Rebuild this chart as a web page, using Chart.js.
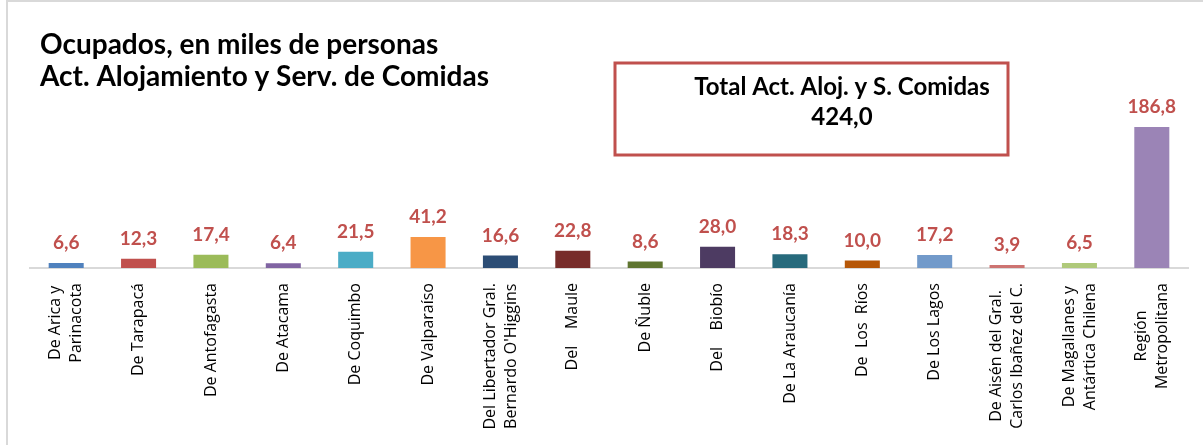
<!DOCTYPE html>
<html>
<head>
<meta charset="utf-8">
<script src="https://cdn.jsdelivr.net/npm/chart.js@4.4.1/dist/chart.umd.min.js"></script>
<style>
    html, body { margin: 0; padding: 0; background: #fff; }
    #wrap { position: relative; width: 1203px; height: 445px; }
    #frame {
        position: absolute; left: 6px; top: 0; right: -4px; bottom: -4px;
        border-left: 2px solid #d9d9d9; border-top: 2px solid #d9d9d9;
    }
    canvas { position: absolute; left: 0; top: 0; }
</style>
</head>
<body>
<div id="wrap">
    <div id="frame"></div>
    <canvas id="chart" width="1203" height="445"></canvas>
</div>
<script>

/* ---------------- Data ---------------- */

const regions = [
    ["De Arica y", "Parinacota"],
    ["De Tarapacá"],
    ["De Antofagasta"],
    ["De Atacama"],
    ["De Coquimbo"],
    ["De Valparaíso"],
    ["Del Libertador Gral.", "Bernardo O'Higgins"],
    ["Del    Maule"],
    ["De Ñuble"],
    ["Del    Biobío"],
    ["De La Araucanía"],
    ["De  Los  Ríos"],
    ["De Los Lagos"],
    ["De Aisén del Gral.", "Carlos Ibañez del C."],
    ["De Magallanes y", "Antártica Chilena"],
    ["Región", "Metropolitana"]
];

const ocupados = [6.6, 12.3, 17.4, 6.4, 21.5, 41.2, 16.6, 22.8, 8.6, 28.0, 18.3, 10.0, 17.2, 3.9, 6.5, 186.8];

const barColors = [
    "#4f81bd", "#c0504d", "#9bbb59", "#8064a2",
    "#4bacc6", "#f79646", "#2c4d75", "#772c2a",
    "#5f7530", "#4d3b62", "#276a7c", "#b65708",
    "#729aca", "#cd7371", "#afc97a", "#9b84b6"
];

const titleLines = ["Ocupados, en miles de personas", "Act. Alojamiento y Serv. de Comidas"];
const totalLines = ["Total Act. Aloj. y S. Comidas", "424,0"];

const fmt = v => v.toFixed(1).replace(".", ",");

/* ---------------- Plugins ---------------- */

const decorations = {
    id: "decorations",
    afterDraw(chart) {
        const ctx = chart.ctx;
        const x = chart.scales.x;

        ctx.save();

        // title
        ctx.fillStyle = "#000";
        ctx.font = "bold 28px Lato";
        ctx.textAlign = "left";
        ctx.textBaseline = "middle";
        titleLines.forEach((t, i) => ctx.fillText(t, 40, 45 + i * 32));

        // total box
        ctx.strokeStyle = "#c0504d";
        ctx.lineWidth = 3;
        ctx.strokeRect(615, 63, 393, 92);
        ctx.font = "bold 24px Lato";
        ctx.textAlign = "center";
        totalLines.forEach((t, i) => ctx.fillText(t, 842, 87 + i * 30));

        // category labels, rotated
        ctx.font = "16px 'Open Sans'";
        ctx.fillStyle = "#000";
        const lh = 21;
        const top = 283;
        regions.forEach((lines, i) => {
            const px = x.getPixelForValue(i);
            const w = Math.max(...lines.map(l => ctx.measureText(l).width));
            lines.forEach((l, j) => {
                const cx = px - (lines.length - 1) * lh / 2 + j * lh;
                ctx.save();
                ctx.translate(cx, top + w / 2);
                ctx.rotate(-Math.PI / 2);
                ctx.textAlign = "center";
                ctx.textBaseline = "middle";
                ctx.fillText(l, 0, 0);
                ctx.restore();
            });
        });

        ctx.restore();
    },
    afterDatasetsDraw(chart) {
        const ctx = chart.ctx;
        const meta = chart.getDatasetMeta(0);
        ctx.save();
        ctx.font = "bold 19px Lato";
        ctx.fillStyle = "#c0504d";
        ctx.textAlign = "center";
        ctx.textBaseline = "middle";
        meta.data.forEach((bar, i) => {
            ctx.fillText(fmt(ocupados[i]), bar.x, bar.y - 20);
        });
        ctx.restore();
    }
};

/* ---------------- Chart ---------------- */

const ctx = document.getElementById("chart").getContext("2d");

new Chart(ctx, {
    type: "bar",
    data: {
        labels: regions.map(r => r.join(" ")),
        datasets: [{
            data: ocupados,
            backgroundColor: barColors,
            borderWidth: 0,
            barPercentage: 0.484,
            categoryPercentage: 1
        }]
    },
    options: {
        responsive: false,
        animation: false,
        layout: {
            padding: { top: 117, left: 30, right: 15, bottom: 0 }
        },
        plugins: {
            legend: { display: false },
            tooltip: { enabled: false }
        },
        scales: {
            x: {
                grid: { display: false },
                border: { display: true, color: "#d9d9d9", width: 2 },
                ticks: { display: false },
                afterFit(scale) {
                    scale.height = 177;
                }
            },
            y: {
                display: false,
                min: 0,
                max: 200
            }
        }
    },
    plugins: [decorations]
});

</script>
</body>
</html>
